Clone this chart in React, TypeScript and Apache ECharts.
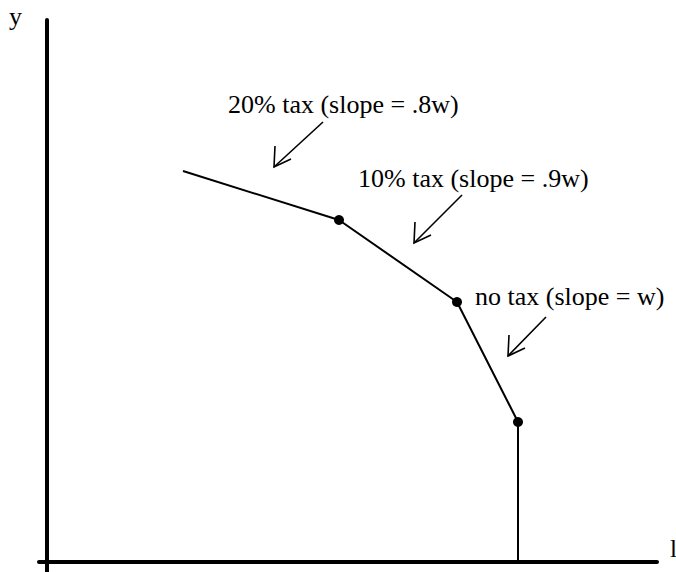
import React, { useEffect, useRef } from "react";
import * as echarts from "echarts";

// Budget constraint kinks (x = leisure, y = consumption), in chart units
const budgetX = [136, 292, 410, 471, 471];
const budgetY = [391, 342, 260, 140, 0];
const kinkFlags = [false, true, true, true, false];

// Annotation arrows: start (x, y) -> tip (x, y)
const arrowStartX = [276, 415, 499];
const arrowStartY = [440, 367, 245];
const arrowTipX = [227, 367, 461];
const arrowTipY = [395, 319, 206];

const annotationTexts = [
  "20% tax (slope = .8w)",
  "10% tax (slope = .9w)",
  "no tax (slope = w)",
];

const axisNames = { y: "y", x: "l" };

export default function App() {
  const ref = useRef<HTMLDivElement>(null);

  useEffect(() => {
    if (!ref.current) return;
    const chart = echarts.init(ref.current, undefined, { renderer: "svg" });
    const family = "Liberation Serif";

    const lineData = budgetX.map((x, i) =>
      kinkFlags[i]
        ? { value: [x, budgetY[i]] }
        : { value: [x, budgetY[i]], symbol: "none" }
    );
    const arrowData = arrowStartX.map((x, i) => [
      x,
      arrowStartY[i],
      arrowTipX[i],
      arrowTipY[i],
    ]);

    const textPos = [
      { x: 228, y: 104 },
      { x: 358, y: 178 },
      { x: 475, y: 296 },
    ];

    chart.setOption({
      animation: false,
      backgroundColor: "#fff",
      grid: { left: 39, right: 19, top: 20, bottom: 0, outerBoundsMode: "none" },
      xAxis: {
        type: "value",
        min: -8,
        max: 610,
        axisLine: { show: true, onZero: true, lineStyle: { color: "#000", width: 4 } },
        axisTick: { show: false },
        axisLabel: { show: false },
        splitLine: { show: false },
      },
      yAxis: {
        type: "value",
        min: -10,
        max: 542,
        axisLine: { show: true, onZero: true, lineStyle: { color: "#000", width: 4 } },
        axisTick: { show: false },
        axisLabel: { show: false },
        splitLine: { show: false },
      },
      series: [
        {
          type: "line",
          data: lineData,
          symbol: "circle",
          symbolSize: 10,
          showSymbol: true,
          lineStyle: { color: "#000", width: 2 },
          itemStyle: { color: "#000" },
          z: 3,
        },
        {
          type: "custom",
          data: arrowData,
          encode: { x: [0, 2], y: [1, 3] },
          renderItem: (params: any, api: any) => {
            const s = api.coord([api.value(0), api.value(1)]);
            const t = api.coord([api.value(2), api.value(3)]);
            const p1 = [t[0] + 1, t[1] - 21];
            const p2 = [t[0] + 17, t[1] - 8];
            return {
              type: "group",
              children: [
                {
                  type: "line",
                  shape: { x1: s[0], y1: s[1], x2: t[0], y2: t[1] },
                  style: { stroke: "#000", lineWidth: 1.6 },
                },
                {
                  type: "polyline",
                  shape: { points: [p1, t, p2] },
                  style: { stroke: "#000", fill: null, lineWidth: 1.6 },
                },
              ],
            };
          },
        },
      ],
      graphic: [
        ...annotationTexts.map((txt, i) => ({
          type: "text",
          x: textPos[i].x,
          y: textPos[i].y,
          style: {
            text: txt,
            fontFamily: family,
            fontSize: 26,
            fill: "#000",
            textAlign: "left",
            textVerticalAlign: "middle",
          },
        })),
        {
          type: "text",
          x: 9,
          y: 16,
          style: {
            text: axisNames.y,
            fontFamily: family,
            fontSize: 26,
            fill: "#000",
            textAlign: "left",
            textVerticalAlign: "middle",
          },
        },
        {
          type: "text",
          x: 670,
          y: 548,
          style: {
            text: axisNames.x,
            fontFamily: family,
            fontSize: 25,
            fill: "#000",
            textAlign: "left",
            textVerticalAlign: "middle",
          },
        },
      ],
    });

    return () => chart.dispose();
  }, []);

  return (
    <div
      ref={ref}
      style={{ position: "fixed", left: 0, top: 0, width: 676, height: 572 }}
    />
  );
}
